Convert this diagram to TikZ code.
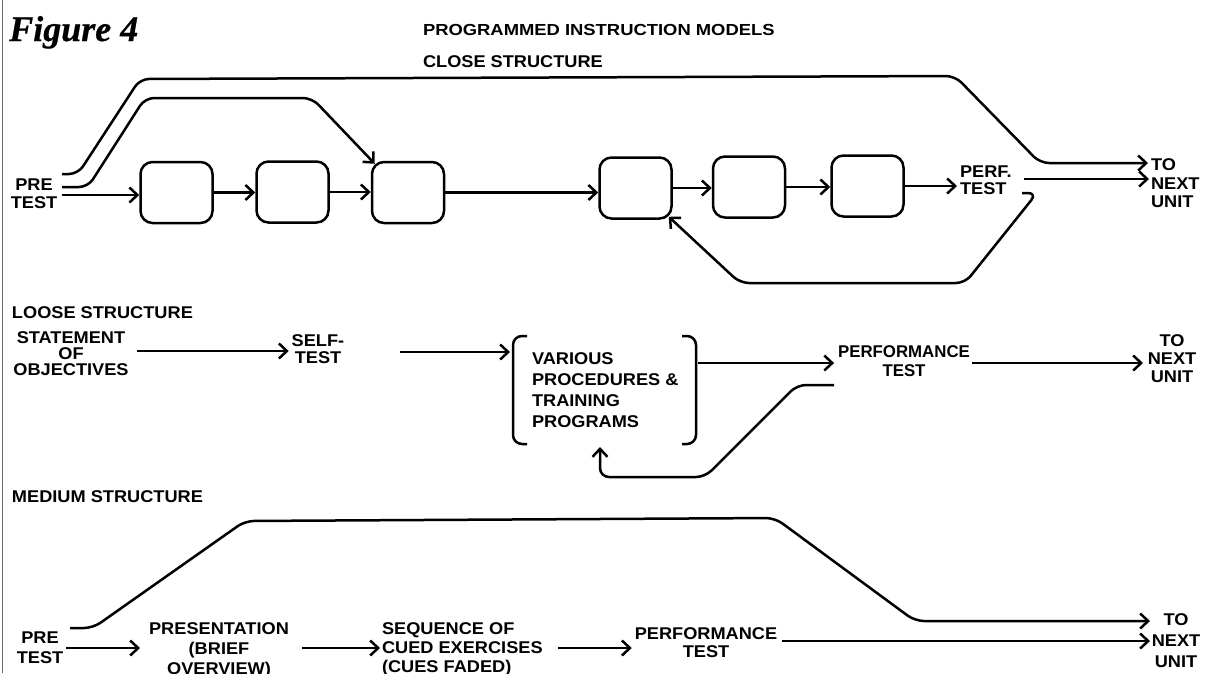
\documentclass[tikz,border=0pt]{standalone}
\usepackage{fontspec}
\setmainfont{Liberation Serif}
\newfontfamily\lab[FakeStretch=1.07]{Liberation Sans Bold}
\newfontfamily\labn[FakeStretch=0.99]{Liberation Sans Bold}
\newfontfamily\ttl[FakeStretch=1.15]{Liberation Sans Bold}
\newfontfamily\figf[FakeBold=0.6]{Liberation Serif}
\usetikzlibrary{arrows.meta,calc}
\begin{document}
\begin{tikzpicture}[x=1pt,y=-1pt,line width=2.5pt,line join=round,
 txt/.style={font=\lab\fontsize{17}{18}\selectfont,inner sep=0pt,outer sep=0pt},
 arr/.style={-{Straight Barb[length=8pt,width=15pt]}},
 blk/.style={draw,rounded corners=12pt,minimum width=72pt,minimum height=61pt,inner sep=0pt},
 rc/.style={rounded corners=9pt}]
\useasboundingbox (0,0) rectangle (1209,673);
\draw[line width=1pt,black!60] (2.5,0) -- (2.5,673);

\node[anchor=base west,inner sep=0pt,font=\figf\fontsize{36}{38}\selectfont\bfseries\itshape] (fig) at (8,41) {Figure 4};
\node[txt,anchor=base west,font=\ttl\fontsize{16}{18}\selectfont] (title) at (423,35) {PROGRAMMED INSTRUCTION MODELS};
\node[txt,anchor=base west] (close) at (423,67) {CLOSE STRUCTURE};

% ---------- close structure
\node[txt,anchor=north,align=center,font=\lab\fontsize{17}{18}\selectfont] (pre1) at (34,179) {PRE\\TEST};
\node[blk] (b1) at (176.5,192.5) {};
\node[blk] (b2) at (292.5,192) {};
\node[blk] (b3) at (408,192.5) {};
\node[blk] (b4) at (635.5,188) {};
\node[blk] (b5) at (749,187) {};
\node[blk] (b6) at (867.5,186) {};
\node[txt,anchor=north west,align=left,font=\lab\fontsize{17}{16.5}\selectfont] (perf1) at (960,166) {PERF.\\TEST};
\node[txt,anchor=north west,align=left,font=\lab\fontsize{17}{18.5}\selectfont] (next1) at (1151,159) {TO\\NEXT\\UNIT};

\coordinate (o0) at (62,174);
\coordinate (i0) at (62,187);
\coordinate (m0) at (62,195);
\coordinate (t1) at (1148,163);
\coordinate (p1) at (1024,179);
\coordinate (n1) at (1149,179);
\coordinate (f1) at (1022,193);

\draw[arr] (m0) -- (m0 -| b1.west);
\draw[arr] (b1.east) -- (b1.east -| b2.west);
\draw[arr] (b2.east) -- (b2.east -| b3.west);
\draw[arr] (b3.east) -- (b3.east -| b4.west);
\draw[arr] (b4.east) -- (b4.east -| b5.west);
\draw[arr] (b5.east) -- (b5.east -| b6.west);
\draw[arr,shorten >=3pt] (b6.east) -- (b6.east -| perf1.west);
\draw[arr,rc] (o0) -- (78,174) -- (140,79) -- (955,76) -- (1040,163) -- (t1);
\draw[arr,rc] (i0) -- (88,187) -- (145,98) -- (312,98) -- ($(b3.north west)+(4,3)$);
\draw[arr] (p1) -- (n1);
\draw[arr,rc] (f1) -- (1037,193) -- (965,283) -- (740,283) -- ($(b4.south east)+(-4,-3)$);

% ---------- loose structure
\node[txt,anchor=base west] (loose) at (12,318) {LOOSE STRUCTURE};
\node[txt,anchor=north,align=center,font=\lab\fontsize{17}{16}\selectfont] (stmt) at (71,332) {STATEMENT\\OF\\OBJECTIVES};
\node[txt,anchor=north,align=center,font=\lab\fontsize{17}{17}\selectfont] (self) at (318,335) {SELF-\\TEST};
\node[txt,anchor=north west,align=left,font=\lab\fontsize{17}{21}\selectfont] (var) at (532,353) {VARIOUS\\PROCEDURES \&\\TRAINING\\PROGRAMS};
\draw[rc] (527,336) -- (513,336) -- (513,444) -- (527,444);
\draw[rc] (682,336) -- (696,336) -- (696,444) -- (682,444);
\node[txt,anchor=north,align=center,font=\labn\fontsize{17}{19}\selectfont] (perf2) at (904,346) {PERFORMANCE\\TEST};
\node[txt,anchor=north,align=center,font=\lab\fontsize{17}{18}\selectfont] (next2) at (1172,335) {TO\\NEXT\\UNIT};

\coordinate (l1) at (137,351);
\coordinate (l2) at (400,352);
\coordinate (l3) at (698,363);
\coordinate (l4) at (972,363);
\coordinate (l4e) at (1143,363);
\coordinate (lf) at (834,385);
\draw[arr,shorten >=3pt] (l1) -- (l1 -| self.west);
\draw[arr] (l2) -- (510,352);
\draw[arr,shorten >=4pt] (l3) -- (l3 -| perf2.west);
\draw[arr] (l4) -- (l4e);
\draw[arr,rc] (lf) -- (797,385) -- (705,477) -- (600,477) -- (600,447);

% ---------- medium structure
\node[txt,anchor=base west] (med) at (12,502) {MEDIUM STRUCTURE};
\node[txt,anchor=north,align=center,font=\lab\fontsize{17}{20}\selectfont] (pre3) at (40,632) {PRE\\TEST};
\node[txt,anchor=north,align=center,font=\lab\fontsize{17}{20}\selectfont] (pres) at (219,623) {PRESENTATION\\(BRIEF\\OVERVIEW)};
\node[txt,anchor=north west,align=left,font=\lab\fontsize{17}{19}\selectfont] (seq) at (382,623) {SEQUENCE OF\\CUED EXERCISES\\(CUES FADED)};
\node[txt,anchor=north,align=center,font=\lab\fontsize{17}{18}\selectfont] (perf3) at (706,628) {PERFORMANCE\\TEST};
\node[txt,anchor=north,align=center,font=\lab\fontsize{17}{21}\selectfont] (next3) at (1176,614) {TO\\NEXT\\UNIT};

\coordinate (u0) at (70,628);
\coordinate (u1) at (1150,621);
\coordinate (k0) at (66,648);
\coordinate (k1) at (302,648);
\coordinate (k2) at (558,648);
\coordinate (k3) at (782,641);
\coordinate (k3e) at (1150,641);
\draw[arr,rc] (u0) -- (93,628) -- (245,521) -- (775,518) -- (915,621) -- (u1);
\draw[arr] (k0) -- (140,648);
\draw[arr,shorten >=2pt] (k1) -- (k1 -| seq.west);
\draw[arr,shorten >=3pt] (k2) -- (k2 -| perf3.west);
\draw[arr] (k3) -- (k3e);
\end{tikzpicture}
\end{document}
